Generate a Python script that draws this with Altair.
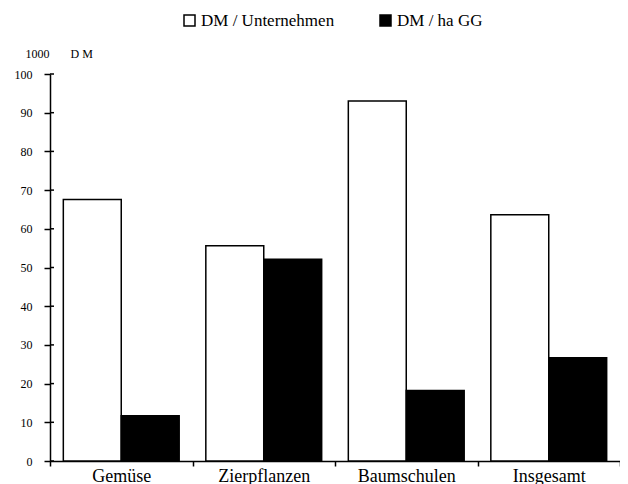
import altair as alt
import pandas as pd

categories = ["Gemüse", "Zierpflanzen", "Baumschulen", "Insgesamt"]
series = ["DM / Unternehmen", "DM / ha GG"]
per_unternehmen = [67.6, 55.6, 93.0, 63.6]
per_ha_gg = [11.7, 52.1, 18.2, 26.7]
y_ticks = [0, 10, 20, 30, 40, 50, 60, 70, 80, 90, 100]

rows = []
for c, a, b in zip(categories, per_unternehmen, per_ha_gg):
    rows.append({"cat": c, "series": series[0], "value": a})
    rows.append({"cat": c, "series": series[1], "value": b})
df = pd.DataFrame(rows)
tick_df = pd.DataFrame({"value": y_ticks})

FONT = "Liberation Serif"
NB = "\u00a0"
yscale = alt.Scale(domain=[0, 100], nice=False, zero=True)
yaxis = alt.Axis(
    values=y_ticks, tickCount=11, labelOverlap=False,
    title="1000" + NB * 7 + "D" + NB + "M", titleAngle=0,
    titleAlign="left", titleBaseline="middle", titleX=-25,
    titleY=-21, titleFont=FONT, titleFontSize=12,
    titleFontWeight="normal", titleColor="black",
    labelFont=FONT, labelFontSize=12, labelColor="black",
    tickSize=6, tickColor="black", tickWidth=1.5,
    domainColor="black", domainWidth=1.5, labelPadding=12,
)

bars = alt.Chart(df).mark_bar(stroke="black", strokeWidth=1.5).encode(
    x=alt.X(
        "cat:N", sort=categories,
        scale=alt.Scale(paddingInner=0, paddingOuter=0),
        axis=alt.Axis(
            title=None, labelAngle=0, labelFont=FONT, labelFontSize=18,
            labelColor="black", tickBand="extent", tickSize=5,
            tickColor="black", tickWidth=1.5, domainColor="black",
            domainWidth=1.5, labelPadding=1,
        ),
    ),
    xOffset=alt.XOffset(
        "series:N", sort=series,
        scale=alt.Scale(paddingInner=0, paddingOuter=0.23),
    ),
    y=alt.Y("value:Q", scale=yscale, axis=yaxis),
    color=alt.Color(
        "series:N", sort=series,
        scale=alt.Scale(domain=series, range=["white", "black"]),
        legend=alt.Legend(
            title=None, orient="none", legendX=131, legendY=-62,
            direction="horizontal", symbolType="square", symbolSize=121,
            symbolStrokeColor="black", symbolStrokeWidth=1.5,
            labelFont=FONT, labelFontSize=17, labelColor="black",
            columnPadding=42, labelOffset=3,
        ),
    ),
)

inner_ticks = alt.Chart(tick_df).mark_rule(color="black", strokeWidth=1.5).encode(
    y=alt.Y("value:Q", scale=yscale, axis=yaxis),
    x=alt.value(0),
    x2=alt.value(4),
)

chart = (
    alt.layer(bars, inner_ticks)
    .properties(
        width=570,
        height=387,
        padding={"left": 42, "top": 66, "right": 0, "bottom": 25},
        autosize=alt.AutoSizeParams(type="none"),
    )
    .configure_view(stroke=None)
    .configure_axis(grid=False)
)

chart.save("out.html", embed_options={"renderer": "svg", "actions": False})
